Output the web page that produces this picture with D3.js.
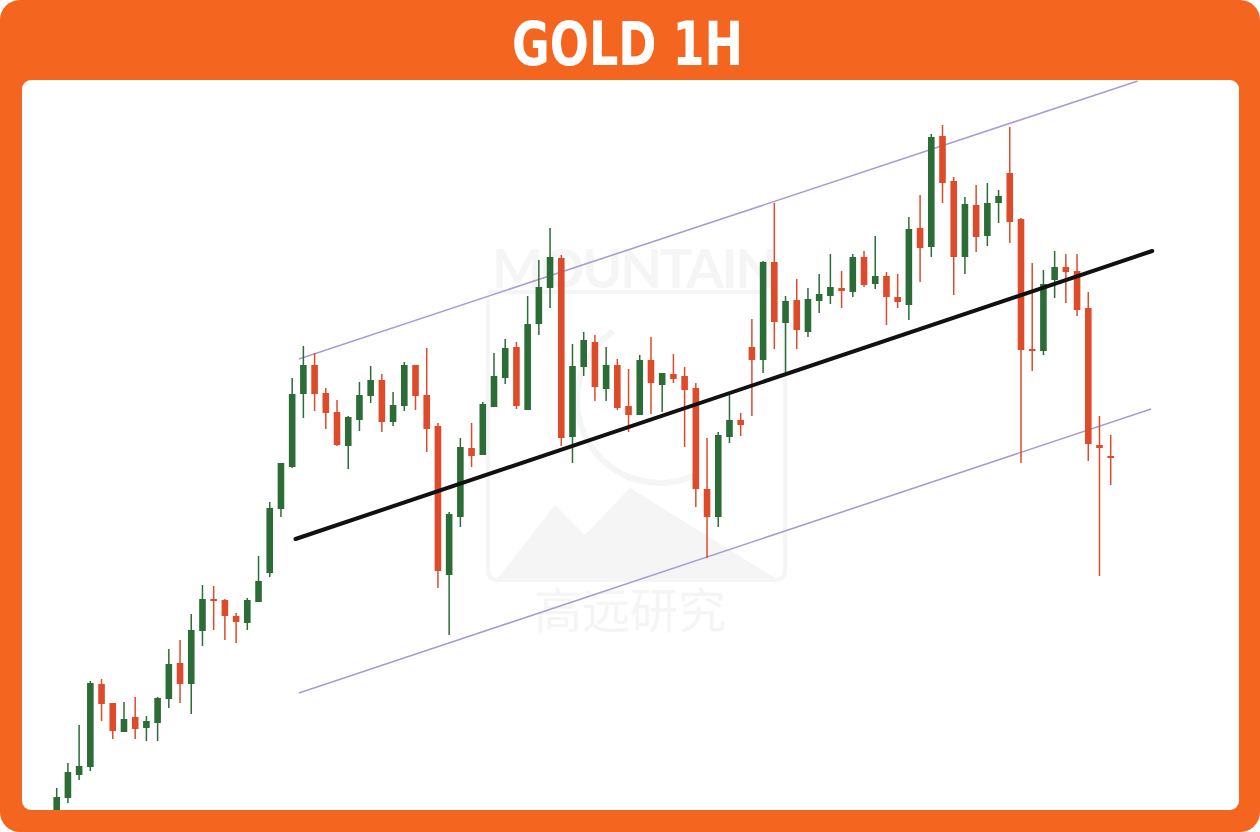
<!DOCTYPE html>
<html>
<head>
<meta charset="utf-8">
<script src="https://cdn.jsdelivr.net/npm/d3@7"></script>
<style>
  html, body { margin: 0; padding: 0; background: #fff; }
  svg { display: block; }
</style>
</head>
<body>
<svg id="chart" width="1260" height="832"></svg>
<script>
const title = 'GOLD 1H';

// hourly candles
const open = [2188, 2202, 2225, 2233, 2316, 2297, 2268, 2283, 2272, 2277, 2301, 2337, 2316, 2369, 2401, 2400, 2384, 2377, 2398, 2427,
  2491, 2533, 2606, 2635, 2607, 2588, 2554, 2580, 2604, 2620, 2578, 2594, 2635, 2605, 2574, 2425, 2483, 2552, 2545, 2593,
  2622, 2653, 2590, 2676, 2712, 2742, 2563, 2633, 2658, 2611, 2635, 2594, 2585, 2640, 2615, 2626, 2624, 2612, 2511, 2483,
  2563, 2580, 2653, 2640, 2738, 2677, 2700, 2668, 2699, 2704, 2712, 2708, 2743, 2716, 2724, 2703, 2695, 2772, 2753, 2864,
  2819, 2743, 2795, 2764, 2797, 2827, 2781, 2651, 2649, 2720, 2733, 2729, 2692, 2555, 2544];
const high = [2212, 2237, 2275, 2319, 2321, 2297, 2298, 2303, 2284, 2303, 2351, 2360, 2386, 2415, 2414, 2401, 2387, 2402, 2444, 2498,
  2537, 2622, 2654, 2647, 2612, 2600, 2584, 2618, 2634, 2626, 2608, 2638, 2635, 2652, 2577, 2488, 2562, 2577, 2598, 2647,
  2661, 2658, 2704, 2740, 2772, 2745, 2656, 2668, 2665, 2653, 2641, 2631, 2645, 2663, 2627, 2646, 2633, 2617, 2562, 2568,
  2605, 2587, 2681, 2739, 2797, 2704, 2721, 2712, 2726, 2746, 2729, 2746, 2749, 2764, 2728, 2726, 2783, 2805, 2866, 2875,
  2823, 2803, 2815, 2817, 2810, 2873, 2782, 2737, 2730, 2749, 2746, 2746, 2708, 2584, 2565];
const low = [2185, 2197, 2220, 2229, 2279, 2261, 2268, 2261, 2259, 2259, 2292, 2297, 2286, 2354, 2370, 2360, 2357, 2370, 2398, 2423,
  2483, 2532, 2582, 2589, 2571, 2554, 2531, 2569, 2597, 2568, 2574, 2589, 2590, 2548, 2412, 2365, 2473, 2533, 2545, 2593,
  2616, 2591, 2590, 2665, 2692, 2554, 2537, 2624, 2599, 2599, 2590, 2568, 2585, 2586, 2588, 2617, 2553, 2493, 2442, 2473,
  2557, 2564, 2584, 2627, 2651, 2628, 2651, 2663, 2687, 2696, 2692, 2703, 2713, 2711, 2675, 2692, 2680, 2718, 2743, 2797,
  2705, 2726, 2748, 2754, 2777, 2757, 2537, 2629, 2645, 2702, 2697, 2684, 2539, 2424, 2515];
const close = [2203, 2228, 2234, 2317, 2296, 2269, 2281, 2271, 2279, 2302, 2336, 2316, 2370, 2401, 2399, 2384, 2378, 2400, 2419, 2492,
  2537, 2606, 2635, 2606, 2587, 2555, 2583, 2605, 2620, 2578, 2595, 2635, 2604, 2571, 2429, 2486, 2553, 2544, 2596, 2624,
  2652, 2594, 2676, 2713, 2743, 2562, 2634, 2660, 2613, 2635, 2592, 2585, 2640, 2617, 2627, 2621, 2610, 2511, 2483, 2565,
  2580, 2575, 2640, 2738, 2678, 2699, 2670, 2701, 2706, 2713, 2709, 2743, 2715, 2724, 2703, 2698, 2771, 2752, 2863, 2817,
  2743, 2796, 2763, 2797, 2804, 2778, 2650, 2650, 2716, 2733, 2728, 2690, 2556, 2552, 2543];

// channel drawn on the chart: [candle index, price]
const channelUpper = [[21.6, 2641], [96.4, 2919]];
const channelLower = [[21.6, 2307], [97.6, 2591]];
const midLine = [[21.3, 2461], [97.7, 2749]];

const candles = open.map((o, i) => ({
  i,
  open: o,
  high: high[i],
  low: low[i],
  close: close[i]
}));

const svg = d3.select('#chart');
const W = +svg.attr('width');
const H = +svg.attr('height');
const panel = { left: 22, top: 80, right: 1239, bottom: 810 };

const orange = '#f4661f';
const up = '#2b6c37';
const down = '#de4b2b';

// frame
svg.append('rect')
  .attr('width', W)
  .attr('height', H)
  .attr('rx', 20)
  .attr('fill', orange);

svg.append('text')
  .attr('x', 512)
  .attr('y', 65)
  .attr('font-family', '"DejaVu Sans", sans-serif')
  .attr('font-weight', 'bold')
  .attr('font-size', 61)
  .attr('textLength', 231)
  .attr('lengthAdjust', 'spacingAndGlyphs')
  .attr('fill', '#fff')
  .text(title);

svg.append('rect')
  .attr('x', panel.left)
  .attr('y', panel.top)
  .attr('width', panel.right - panel.left)
  .attr('height', panel.bottom - panel.top)
  .attr('rx', 9)
  .attr('fill', '#fff');

svg.append('clipPath')
  .attr('id', 'clip')
  .append('rect')
  .attr('x', panel.left)
  .attr('y', panel.top)
  .attr('width', panel.right - panel.left)
  .attr('height', panel.bottom - panel.top)
  .attr('rx', 9);

const g = svg.append('g').attr('clip-path', 'url(#clip)');

// faint watermark
const wm = g.append('g').attr('fill', '#000').attr('opacity', 0.035);
wm.append('text')
  .attr('x', 492)
  .attr('y', 288)
  .attr('font-family', 'Lato, sans-serif')
  .attr('font-weight', 'bold')
  .attr('font-size', 54)
  .attr('textLength', 285)
  .text('MOUNTAIN');
wm.append('rect').attr('x', 488).attr('y', 290).attr('width', 272).attr('height', 4);
wm.append('path')
  .attr('fill', 'none')
  .attr('stroke', '#000')
  .attr('stroke-width', 4)
  .attr('d', 'M488,300 V570 Q488,580 498,580 H775 Q785,580 785,570 V300');
wm.append('path').attr('d', 'M498,578 L555,505 L585,535 L630,488 L775,578 Z');
wm.append('path')
  .attr('d', d3.arc()({ innerRadius: 80, outerRadius: 86, startAngle: -3.6, endAngle: -0.6 }))
  .attr('transform', 'translate(660,400)');
wm.append('text')
  .attr('x', 630)
  .attr('y', 628)
  .attr('text-anchor', 'middle')
  .attr('font-family', '"Noto Sans CJK SC", sans-serif')
  .attr('font-size', 48)
  .text('高远研究');

// scales
const x = d3.scaleLinear().domain([0, candles.length - 1]).range([56.7, 1110.7]);
const y = d3.scaleLinear().domain([2190, 2920]).range([panel.bottom, panel.top]);
const bodyW = 6.6;

const line = d3.line().x(d => x(d[0])).y(d => y(d[1]));

[channelUpper, channelLower].forEach(pts => {
  g.append('path')
    .datum(pts)
    .attr('fill', 'none')
    .attr('stroke', '#a99cd2')
    .attr('stroke-width', 1.6)
    .attr('d', line);
});

// candles
const c = g.append('g')
  .selectAll('g')
  .data(candles)
  .join('g')
  .attr('fill', d => (d.close >= d.open ? up : down))
  .attr('stroke', d => (d.close >= d.open ? up : down));

c.append('line')
  .attr('x1', d => x(d.i))
  .attr('x2', d => x(d.i))
  .attr('y1', d => y(d.high))
  .attr('y2', d => y(d.low))
  .attr('stroke-width', 1.5);

c.append('rect')
  .attr('stroke', 'none')
  .attr('x', d => x(d.i) - bodyW / 2)
  .attr('y', d => y(Math.max(d.open, d.close)))
  .attr('width', bodyW)
  .attr('height', d => Math.max(2, Math.abs(y(d.open) - y(d.close))));

g.append('path')
  .datum(midLine)
  .attr('fill', 'none')
  .attr('stroke', '#111')
  .attr('stroke-width', 4)
  .attr('stroke-linecap', 'round')
  .attr('d', line);
</script>
</body>
</html>
